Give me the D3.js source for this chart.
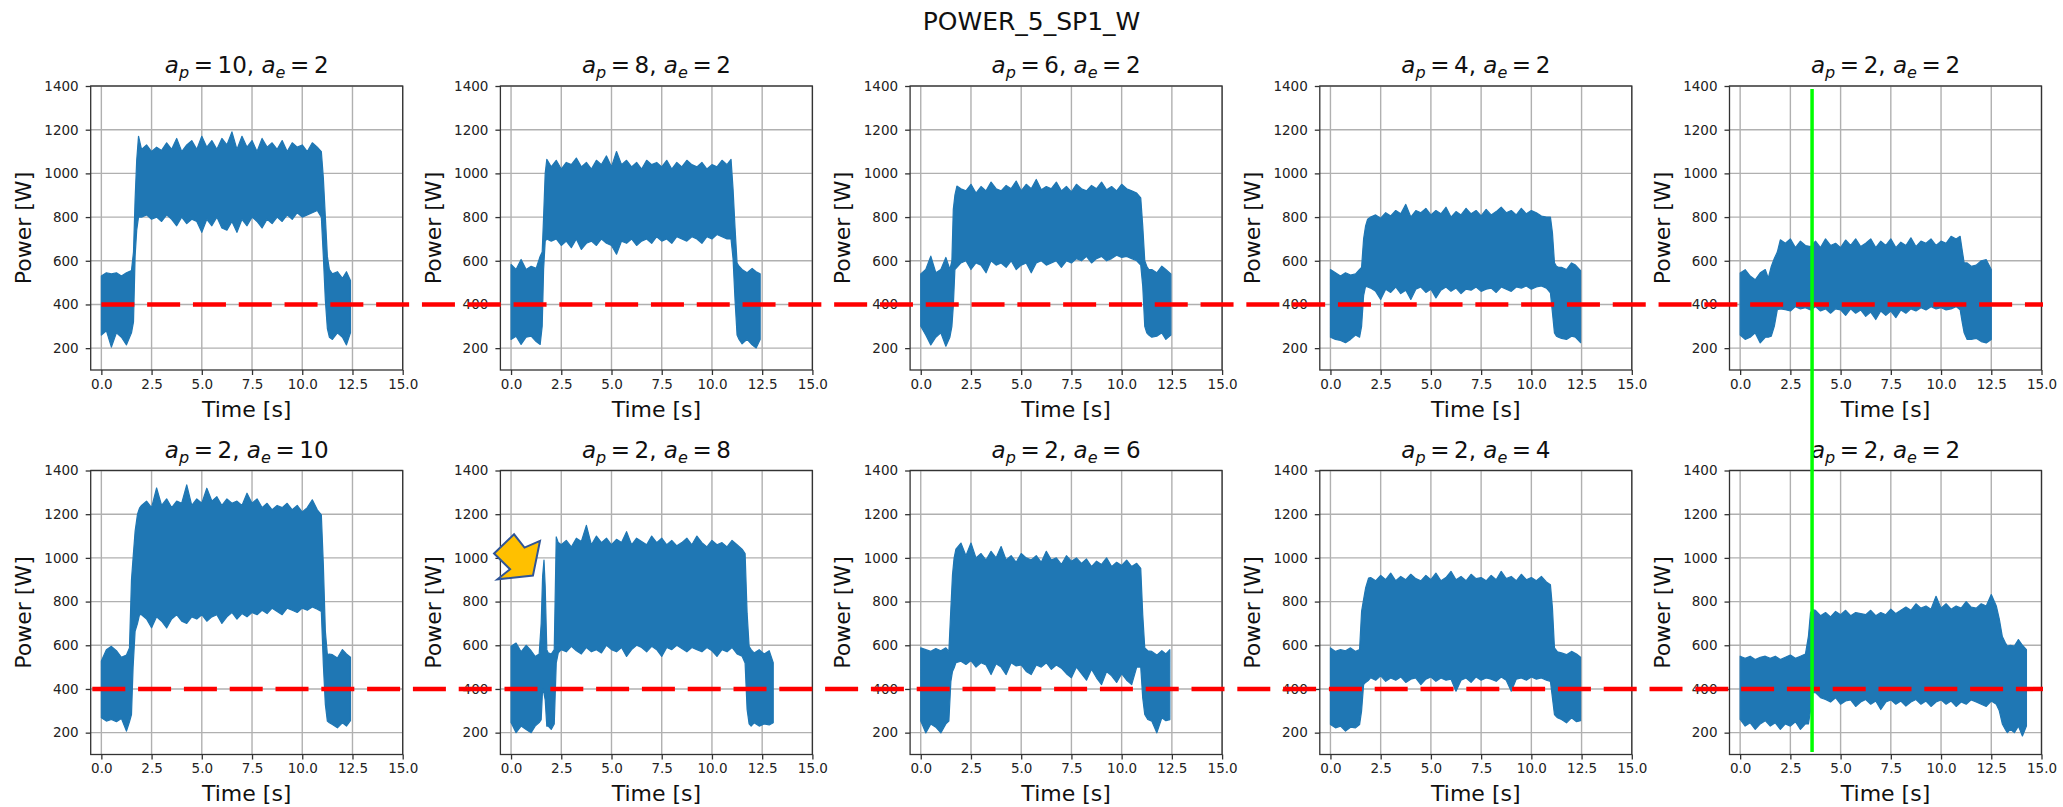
<!DOCTYPE html>
<html>
<head>
<meta charset="utf-8">
<script src="https://cdn.jsdelivr.net/npm/d3@7"></script>
<style>
body { margin: 0; background: #fff; }
text { font-family: "DejaVu Sans", sans-serif; }
</style>
</head>
<body>
<div id="chart-area"></div>
<script>

// subplot parameters (row-major order)
var apValues = [10, 8, 6, 4, 2, 2, 2, 2, 2, 2];
var aeValues = [2, 2, 2, 2, 2, 10, 8, 6, 4, 2];

var xTicks = [0, 2.5, 5, 7.5, 10, 12.5, 15];
var yTicks = [200, 400, 600, 800, 1000, 1200, 1400];

var suptitle = "POWER_5_SP1_W";
var thresholdW = 400;          // red dashed reference line
var thresholdStartT = [0, -0.45];
var markerT = 3.58;            // green marker in the last column
var markerTopW = 1386, markerBottomW = 112;

// yellow callout arrow, in the data units of panel 7
var arrowT = [-0.845, 0.15, 0.67, 1.44, 1.09, -0.68, -0.05];
var arrowW = [1020, 1108, 1047, 1078, 919, 902, 948];

// envelopes (upper / lower) of the noisy power signal
var time1 = [0, 0.25, 0.5, 0.75, 1, 1.25, 1.5, 1.6, 1.68, 1.76, 1.85, 2, 2.25, 2.5, 2.75, 3, 3.25, 3.5, 3.75, 4, 4.25, 4.5, 4.75, 5, 5.25, 5.5, 5.75, 6, 6.25, 6.5, 6.75, 7, 7.25, 7.5, 7.75, 8, 8.25, 8.5, 8.75, 9, 9.25, 9.5, 9.75, 10, 10.25, 10.5, 10.75, 10.95, 11.05, 11.15, 11.25, 11.35, 11.5, 11.75, 12, 12.2, 12.4];
var upper1 = [530, 545, 540, 545, 530, 545, 555, 640, 880, 1060, 1170, 1110, 1130, 1100, 1120, 1105, 1140, 1110, 1160, 1100, 1130, 1150, 1110, 1170, 1120, 1150, 1110, 1160, 1130, 1190, 1110, 1170, 1120, 1150, 1100, 1160, 1120, 1140, 1110, 1150, 1100, 1140, 1120, 1130, 1100, 1140, 1120, 1100, 980, 800, 620, 560, 540, 550, 520, 550, 510];
var lower1 = [260, 280, 205, 270, 250, 215, 270, 320, 620, 740, 800, 800, 810, 790, 800, 780, 810, 790, 760, 800, 770, 790, 780, 730, 790, 760, 800, 750, 740, 780, 730, 790, 760, 800, 780, 750, 790, 770, 800, 780, 810, 790, 820, 800, 810, 820, 830, 800, 620, 420, 290, 250, 240, 270, 250, 215, 270];

var time2 = [0, 0.25, 0.5, 0.75, 1, 1.25, 1.45, 1.55, 1.62, 1.7, 1.78, 2, 2.25, 2.5, 2.75, 3, 3.25, 3.5, 3.75, 4, 4.25, 4.5, 4.75, 5, 5.25, 5.5, 5.75, 6, 6.25, 6.5, 6.75, 7, 7.25, 7.5, 7.75, 8, 8.25, 8.5, 8.75, 9, 9.25, 9.5, 9.75, 10, 10.25, 10.5, 10.75, 10.95, 11.05, 11.15, 11.25, 11.35, 11.5, 11.75, 12, 12.2, 12.4];
var upper2 = [583, 560, 606, 560, 575, 565, 621, 640, 800, 1000, 1064, 1030, 1060, 1020, 1050, 1040, 1070, 1030, 1050, 1020, 1060, 1040, 1080, 1030, 1100, 1040, 1060, 1030, 1050, 1020, 1060, 1040, 1050, 1030, 1060, 1020, 1050, 1030, 1060, 1040, 1030, 1050, 1020, 1040, 1030, 1060, 1040, 1064, 930, 750, 590, 575, 560, 545, 565, 550, 540];
var lower2 = [240, 255, 217, 250, 255, 230, 217, 300, 560, 690, 700, 690, 700, 670, 690, 660, 700, 652, 680, 690, 670, 700, 680, 670, 630, 690, 680, 700, 670, 690, 700, 680, 710, 690, 700, 680, 710, 700, 690, 710, 700, 680, 710, 700, 720, 710, 700, 700, 610, 420, 260, 240, 220, 240, 215, 201, 240];

var time3 = [0, 0.25, 0.5, 0.75, 1, 1.25, 1.45, 1.55, 1.62, 1.7, 1.8, 2, 2.25, 2.5, 2.75, 3, 3.25, 3.5, 3.75, 4, 4.25, 4.5, 4.75, 5, 5.25, 5.5, 5.75, 6, 6.25, 6.5, 6.75, 7, 7.25, 7.5, 7.75, 8, 8.25, 8.5, 8.75, 9, 9.25, 9.5, 9.75, 10, 10.25, 10.5, 10.75, 10.95, 11.05, 11.15, 11.25, 11.35, 11.5, 11.75, 12, 12.2, 12.45];
var upper3 = [540, 560, 621, 545, 560, 615, 560, 600, 835, 900, 942, 930, 920, 950, 910, 940, 920, 960, 930, 920, 945, 930, 965, 920, 950, 930, 972, 925, 940, 930, 960, 920, 940, 915, 950, 930, 920, 945, 930, 960, 925, 940, 920, 950, 930, 920, 910, 888, 759, 600, 575, 560, 560, 545, 575, 560, 540];
var lower3 = [300, 260, 215, 250, 270, 209, 250, 300, 392, 560, 570, 590, 600, 560, 590, 580, 545, 600, 580, 590, 570, 600, 560, 580, 590, 545, 590, 600, 580, 590, 600, 570, 600, 590, 610, 600, 620, 590, 610, 620, 600, 610, 625, 615, 620, 610, 600, 580, 484, 300, 270, 260, 250, 255, 270, 240, 260];

var time4 = [0, 0.25, 0.5, 0.75, 1, 1.25, 1.45, 1.55, 1.65, 1.75, 1.85, 2, 2.25, 2.5, 2.75, 3, 3.25, 3.5, 3.75, 4, 4.25, 4.5, 4.75, 5, 5.25, 5.5, 5.75, 6, 6.25, 6.5, 6.75, 7, 7.25, 7.5, 7.75, 8, 8.25, 8.5, 8.75, 9, 9.25, 9.5, 9.75, 10, 10.25, 10.5, 10.75, 10.95, 11.05, 11.15, 11.25, 11.35, 11.5, 11.75, 12, 12.2, 12.45];
var upper4 = [560, 545, 530, 545, 535, 540, 560, 570, 700, 760, 790, 800, 810, 795, 820, 805, 830, 815, 858, 800, 830, 820, 840, 810, 830, 815, 845, 800, 825, 810, 840, 815, 830, 805, 835, 810, 825, 845, 820, 830, 810, 840, 815, 830, 820, 805, 800, 800, 728, 591, 575, 570, 570, 560, 590, 580, 555];
var lower4 = [250, 240, 235, 225, 240, 260, 250, 300, 440, 484, 480, 475, 460, 423, 470, 455, 480, 450, 465, 423, 470, 480, 455, 470, 430, 465, 480, 460, 475, 450, 470, 465, 480, 460, 470, 475, 455, 480, 470, 460, 480, 475, 485, 470, 480, 485, 475, 453, 362, 270, 255, 250, 245, 240, 255, 250, 225];

var time5 = [0, 0.25, 0.5, 0.75, 1, 1.25, 1.4, 1.55, 1.7, 1.85, 2, 2.25, 2.5, 2.75, 3, 3.25, 3.5, 3.75, 4, 4.25, 4.5, 4.75, 5, 5.25, 5.5, 5.75, 6, 6.25, 6.5, 6.75, 7, 7.25, 7.5, 7.75, 8, 8.25, 8.5, 8.75, 9, 9.25, 9.5, 9.75, 10, 10.25, 10.5, 10.75, 10.95, 11.05, 11.15, 11.3, 11.5, 11.75, 12, 12.25, 12.5];
var upper5 = [544, 559, 530, 513, 545, 560, 520, 574, 610, 640, 696, 680, 700, 660, 690, 670, 665, 690, 660, 700, 670, 680, 660, 695, 670, 700, 665, 680, 700, 660, 690, 670, 700, 660, 685, 670, 705, 665, 690, 680, 700, 670, 690, 680, 712, 700, 712, 650, 590, 590, 575, 580, 600, 605, 560];
var lower5 = [260, 240, 250, 270, 224, 250, 250, 255, 300, 376, 380, 376, 370, 390, 380, 385, 375, 390, 370, 380, 360, 380, 375, 350, 380, 360, 375, 346, 365, 331, 370, 350, 370, 340, 375, 360, 380, 370, 385, 375, 390, 380, 385, 375, 380, 390, 376, 320, 270, 240, 240, 245, 230, 224, 240];

var time6 = [0, 0.25, 0.5, 0.75, 1, 1.25, 1.4, 1.5, 1.58, 1.68, 1.8, 1.9, 2, 2.25, 2.5, 2.75, 3, 3.25, 3.5, 3.75, 4, 4.25, 4.5, 4.75, 5, 5.25, 5.5, 5.75, 6, 6.25, 6.5, 6.75, 7, 7.25, 7.5, 7.75, 8, 8.25, 8.5, 8.75, 9, 9.25, 9.5, 9.75, 10, 10.25, 10.5, 10.75, 10.95, 11.05, 11.15, 11.25, 11.35, 11.5, 11.75, 12, 12.2, 12.4];
var upper6 = [528, 580, 595, 575, 545, 555, 588, 900, 1000, 1121, 1200, 1228, 1240, 1260, 1230, 1320, 1240, 1270, 1230, 1260, 1250, 1334, 1240, 1270, 1250, 1319, 1260, 1280, 1240, 1270, 1250, 1260, 1240, 1296, 1250, 1270, 1230, 1250, 1220, 1240, 1230, 1250, 1220, 1240, 1210, 1230, 1266, 1220, 1197, 969, 664, 557, 560, 557, 542, 580, 560, 545];
var lower6 = [268, 253, 260, 250, 265, 207, 250, 283, 500, 664, 700, 740, 740, 720, 680, 730, 710, 679, 720, 740, 710, 700, 730, 720, 740, 710, 730, 740, 700, 730, 750, 720, 745, 730, 750, 740, 760, 745, 770, 755, 740, 770, 760, 750, 770, 760, 775, 765, 755, 512, 329, 253, 245, 237, 222, 245, 230, 255];

var time7 = [0, 0.25, 0.5, 0.75, 1, 1.2, 1.4, 1.5, 1.57, 1.64, 1.7, 1.78, 1.85, 2, 2.15, 2.25, 2.35, 2.5, 2.75, 3, 3.25, 3.5, 3.75, 4, 4.25, 4.5, 4.75, 5, 5.25, 5.5, 5.75, 6, 6.25, 6.5, 6.75, 7, 7.25, 7.5, 7.75, 8, 8.25, 8.5, 8.75, 9, 9.25, 9.5, 9.75, 10, 10.25, 10.5, 10.75, 11, 11.25, 11.5, 11.65, 11.75, 11.85, 11.95, 12.1, 12.35, 12.6, 12.85, 13.05];
var upper7 = [595, 610, 570, 600, 575, 549, 560, 700, 914, 990, 868, 580, 565, 560, 580, 1096, 1070, 1060, 1080, 1050, 1090, 1075, 1149, 1060, 1100, 1070, 1090, 1060, 1085, 1070, 1120, 1060, 1090, 1075, 1060, 1100, 1070, 1090, 1060, 1080, 1055, 1070, 1090, 1060, 1100, 1070, 1050, 1080, 1060, 1070, 1050, 1080, 1060, 1040, 1020, 747, 595, 580, 565, 580, 560, 575, 520];
var lower7 = [246, 200, 230, 215, 200, 230, 246, 260, 400, 380, 350, 230, 230, 215, 240, 519, 565, 580, 570, 595, 575, 560, 590, 570, 580, 565, 600, 580, 570, 590, 549, 580, 600, 590, 570, 595, 580, 549, 590, 580, 600, 585, 570, 590, 580, 570, 590, 575, 549, 580, 570, 590, 560, 550, 519, 306, 240, 230, 245, 230, 240, 235, 245];

var time8 = [0, 0.25, 0.5, 0.75, 1, 1.25, 1.4, 1.5, 1.58, 1.66, 1.75, 2, 2.25, 2.5, 2.75, 3, 3.25, 3.5, 3.75, 4, 4.25, 4.5, 4.75, 5, 5.25, 5.5, 5.75, 6, 6.25, 6.5, 6.75, 7, 7.25, 7.5, 7.75, 8, 8.25, 8.5, 8.75, 9, 9.25, 9.5, 9.75, 10, 10.25, 10.5, 10.75, 10.95, 11.05, 11.15, 11.3, 11.5, 11.75, 12, 12.2, 12.4];
var upper8 = [588, 580, 572, 585, 575, 588, 572, 771, 923, 999, 1040, 1068, 1010, 1068, 1000, 1020, 990, 1030, 1000, 1052, 990, 1010, 980, 1020, 1000, 990, 1010, 980, 1030, 990, 1000, 970, 1010, 985, 1000, 975, 995, 960, 985, 970, 1000, 960, 980, 965, 990, 960, 975, 952, 740, 588, 575, 572, 555, 575, 560, 580];
var lower8 = [253, 199, 240, 225, 199, 240, 253, 435, 480, 496, 520, 527, 512, 530, 500, 520, 510, 466, 515, 500, 466, 520, 505, 510, 480, 466, 510, 500, 520, 490, 510, 495, 470, 451, 500, 470, 440, 490, 451, 420, 480, 460, 430, 470, 440, 420, 500, 500, 359, 283, 260, 253, 199, 268, 255, 260];

var time9 = [0, 0.25, 0.5, 0.75, 1, 1.25, 1.45, 1.55, 1.65, 1.75, 1.9, 2, 2.25, 2.5, 2.75, 3, 3.25, 3.5, 3.75, 4, 4.25, 4.5, 4.75, 5, 5.25, 5.5, 5.75, 6, 6.25, 6.5, 6.75, 7, 7.25, 7.5, 7.75, 8, 8.25, 8.5, 8.75, 9, 9.25, 9.5, 9.75, 10, 10.25, 10.5, 10.75, 10.95, 11.05, 11.15, 11.3, 11.5, 11.75, 12, 12.25, 12.45];
var upper9 = [588, 572, 580, 575, 588, 572, 580, 755, 810, 862, 908, 910, 895, 920, 900, 930, 895, 915, 900, 925, 905, 895, 920, 900, 930, 895, 910, 938, 900, 915, 895, 925, 905, 910, 895, 920, 900, 938, 905, 915, 895, 925, 900, 910, 895, 915, 890, 877, 771, 588, 570, 565, 557, 572, 560, 545];
var lower9 = [237, 222, 230, 207, 225, 222, 237, 300, 420, 430, 440, 451, 440, 460, 435, 450, 440, 455, 430, 445, 450, 420, 445, 455, 435, 450, 440, 445, 390, 440, 450, 430, 455, 440, 450, 445, 435, 455, 440, 390, 445, 450, 440, 455, 445, 450, 440, 435, 359, 283, 268, 260, 245, 268, 250, 255];

var time10 = [0, 0.25, 0.5, 0.75, 1, 1.25, 1.5, 1.75, 2, 2.25, 2.5, 2.75, 3, 3.25, 3.4, 3.5, 3.6, 3.75, 4, 4.25, 4.5, 4.75, 5, 5.25, 5.5, 5.75, 6, 6.25, 6.5, 6.75, 7, 7.25, 7.5, 7.75, 8, 8.25, 8.5, 8.75, 9, 9.25, 9.5, 9.75, 10, 10.25, 10.5, 10.75, 11, 11.25, 11.5, 11.75, 12, 12.25, 12.5, 12.75, 12.9, 13.05, 13.2, 13.3, 13.45, 13.65, 13.85, 14.05, 14.25];
var upper10 = [550, 540, 550, 535, 545, 550, 540, 550, 535, 545, 555, 540, 550, 560, 642, 748, 763, 760, 735, 750, 730, 755, 740, 760, 735, 750, 745, 740, 760, 735, 750, 740, 765, 745, 760, 775, 760, 790, 770, 780, 765, 824, 770, 790, 765, 780, 770, 800, 775, 770, 790, 780, 832, 780, 720, 640, 611, 596, 600, 596, 626, 600, 580];
var lower10 = [261, 230, 245, 215, 240, 255, 230, 245, 215, 240, 230, 250, 215, 240, 240, 300, 383, 383, 360, 352, 340, 360, 330, 345, 350, 320, 340, 352, 330, 345, 306, 340, 350, 330, 345, 322, 340, 352, 330, 345, 320, 340, 350, 330, 345, 320, 340, 330, 350, 340, 330, 320, 345, 330, 300, 240, 215, 200, 215, 200, 230, 185, 230];

var panels = [
    {t: time1, hi: upper1, lo: lower1},
    {t: time2, hi: upper2, lo: lower2},
    {t: time3, hi: upper3, lo: lower3},
    {t: time4, hi: upper4, lo: lower4},
    {t: time5, hi: upper5, lo: lower5},
    {t: time6, hi: upper6, lo: lower6},
    {t: time7, hi: upper7, lo: lower7},
    {t: time8, hi: upper8, lo: lower8},
    {t: time9, hi: upper9, lo: lower9},
    {t: time10, hi: upper10, lo: lower10}
];

var width = 2063, height = 807;
var colLeft = [90.7, 500.4, 910.1, 1319.8, 1729.5],
    rowTop = [86, 470.5],
    plotW = 312, plotH = 284;

var svg = d3.select("#chart-area")
    .append("svg")
        .attr("width", width)
        .attr("height", height)
        .style("background", "#fff");

var x = d3.scaleLinear().domain([-0.53, 15]).range([0, plotW]);
var y = d3.scaleLinear().domain([100, 1400]).range([plotH, 0]);

svg.append("text")
    .attr("x", width / 2)
    .attr("y", 30)
    .attr("text-anchor", "middle")
    .attr("font-size", "25px")
    .attr("fill", "#111")
    .text(suptitle);

panels.forEach(function(p, i) {
    if (p.t.length !== p.hi.length || p.t.length !== p.lo.length) {
        console.log("length mismatch in panel", i + 1, p.t.length, p.hi.length, p.lo.length);
    }
    var row = Math.floor(i / 5), col = i % 5;
    var g = svg.append("g")
        .attr("transform", "translate(" + colLeft[col] + "," + rowTop[row] + ")");

    // grid
    g.append("g").selectAll("line").data(xTicks).enter().append("line")
        .attr("x1", d => x(d)).attr("x2", d => x(d))
        .attr("y1", 0).attr("y2", plotH)
        .attr("stroke", "#b0b0b0").attr("stroke-width", 1.4);
    g.append("g").selectAll("line").data(yTicks).enter().append("line")
        .attr("x1", 0).attr("x2", plotW)
        .attr("y1", d => y(d)).attr("y2", d => y(d))
        .attr("stroke", "#b0b0b0").attr("stroke-width", 1.4);

    // signal band
    var area = d3.area()
        .x((d, k) => x(p.t[k]))
        .y0((d, k) => y(p.lo[k]))
        .y1((d, k) => y(p.hi[k]));
    g.append("path")
        .datum(p.t)
        .attr("d", area)
        .attr("fill", "#1f77b4")
        .attr("stroke", "#1f77b4")
        .attr("stroke-width", 1.2)
        .attr("stroke-linejoin", "round");

    // axes
    var xAxisCall = d3.axisBottom(x).tickValues(xTicks)
        .tickFormat(d3.format(".1f")).tickSize(5).tickPadding(4);
    var xg = g.append("g")
        .attr("class", "x axis")
        .attr("transform", "translate(0," + plotH + ")")
        .call(xAxisCall);
    var yAxisCall = d3.axisLeft(y).tickValues(yTicks)
        .tickFormat(d3.format("d")).tickSize(5).tickPadding(7);
    var yg = g.append("g")
        .attr("class", "y axis")
        .call(yAxisCall);
    [xg, yg].forEach(function(a) {
        a.select(".domain").remove();
        a.selectAll(".tick line").attr("stroke", "#333").attr("stroke-width", 1.3);
        a.selectAll(".tick text")
            .attr("font-family", "DejaVu Sans")
            .attr("font-size", "13.5px")
            .attr("fill", "#222");
    });

    g.append("rect")
        .attr("width", plotW).attr("height", plotH)
        .attr("fill", "none")
        .attr("stroke", "#333").attr("stroke-width", 1.3);

    // labels
    g.append("text")
        .attr("x", plotW / 2).attr("y", plotH + 46.5)
        .attr("text-anchor", "middle")
        .attr("font-size", "22px").attr("fill", "#111")
        .text("Time [s]");
    g.append("text")
        .attr("transform", "translate(-59.7," + (plotH / 2) + ") rotate(-90)")
        .attr("text-anchor", "middle")
        .attr("font-size", "22px").attr("fill", "#111")
        .text("Power [W]");

    // title: a_p = .., a_e = ..
    var title = g.append("text")
        .attr("x", plotW / 2).attr("y", -12.8)
        .attr("text-anchor", "middle")
        .attr("font-size", "23px").attr("fill", "#111");
    title.append("tspan").attr("font-style", "italic").text("a");
    title.append("tspan").attr("font-style", "italic").attr("font-size", "16px").attr("dy", 5).text("p");
    title.append("tspan").attr("dy", -5).text("\u2009=\u2009" + apValues[i] + ", ");
    title.append("tspan").attr("font-style", "italic").text("a");
    title.append("tspan").attr("font-style", "italic").attr("font-size", "16px").attr("dy", 5).text("e");
    title.append("tspan").attr("dy", -5).text("\u2009=\u2009" + aeValues[i]);
});

// red dashed threshold across each row
rowTop.forEach(function(top, r) {
    svg.append("line")
        .attr("x1", colLeft[0] + x(thresholdStartT[r]))
        .attr("x2", colLeft[4] + plotW + 1.5)
        .attr("y1", top + y(thresholdW))
        .attr("y2", top + y(thresholdW))
        .attr("stroke", "#ff0000")
        .attr("stroke-width", 4.5)
        .attr("stroke-dasharray", "33,12.8");
});

// green vertical marker spanning both rows of the last column
svg.append("line")
    .attr("x1", colLeft[4] + x(markerT))
    .attr("x2", colLeft[4] + x(markerT))
    .attr("y1", rowTop[0] + y(markerTopW))
    .attr("y2", rowTop[1] + y(markerBottomW))
    .attr("stroke", "#00ff00")
    .attr("stroke-width", 3.5);

// yellow callout arrow on panel 7
var arrowPts = arrowT.map((t, k) => [colLeft[1] + x(t), rowTop[1] + y(arrowW[k])]);
svg.append("path")
    .attr("d", d3.line()(arrowPts) + "Z")
    .attr("fill", "#ffc000")
    .attr("stroke", "#2f5597")
    .attr("stroke-width", 2)
    .attr("stroke-linejoin", "miter");

</script>
</body>
</html>
